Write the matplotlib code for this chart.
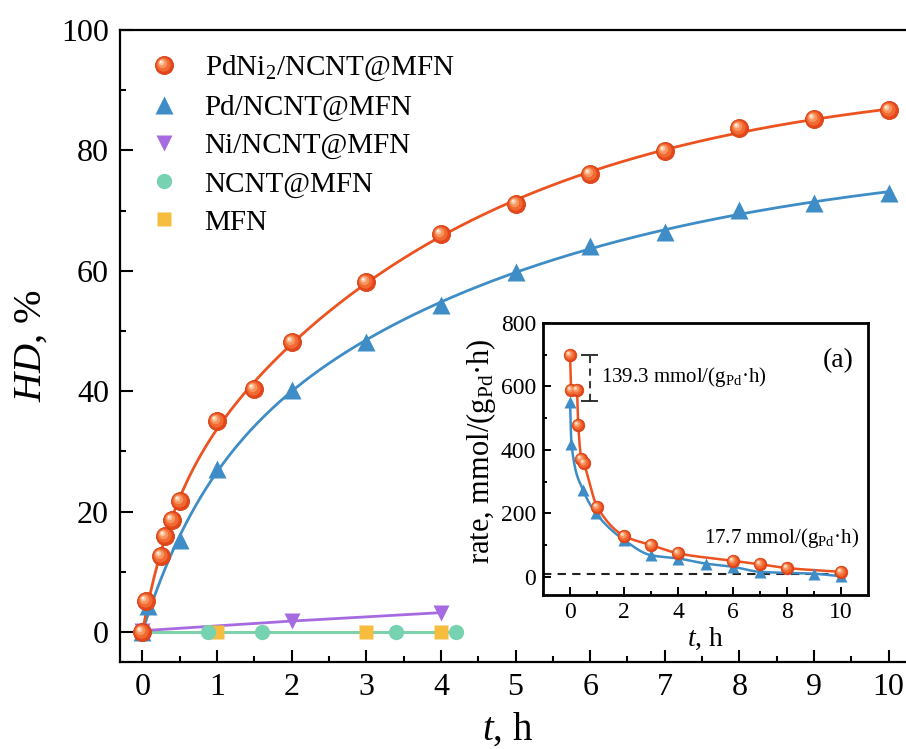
import numpy as np
import matplotlib
matplotlib.use("Agg")
import matplotlib.pyplot as plt
from matplotlib.path import Path
from matplotlib.markers import MarkerStyle
from matplotlib.legend_handler import HandlerTuple

plt.rcParams['font.family'] = ['Liberation Serif', 'DejaVu Serif']
plt.rcParams['mathtext.fontset'] = 'custom'
plt.rcParams['mathtext.rm'] = 'Liberation Serif'
plt.rcParams['mathtext.it'] = 'Liberation Serif:italic'
plt.rcParams['mathtext.bf'] = 'Liberation Serif:bold'

# ---------------- data ----------------
t_pdni = [0, 0.05, 0.25, 0.3, 0.4, 0.5, 1, 1.5, 2, 3, 4, 5, 6, 7, 8, 9, 10]
hd_pdni = [0, 5.2, 12.6, 15.9, 18.6, 21.8, 35.1, 40.4, 48.2, 58.1, 66.1, 71.1, 76.1, 79.9, 83.7, 85.2, 86.7]

t_pd = [0, 0.08, 0.5, 1, 2, 3, 4, 5, 6, 7, 8, 9, 10]
hd_pd = [0, 4.3, 15.3, 27.0, 40.2, 48.2, 54.3, 59.8, 64.1, 66.4, 70.1, 71.3, 72.9]

t_ni = [0, 2, 4]
hd_ni = [0.2, 1.8, 3.2]

t_ncnt = [0, 0.88, 1.6, 3.4, 4.2]
hd_ncnt = [0, 0, 0, 0, 0]

t_mfn = [0, 1, 3, 4]
hd_mfn = [0, 0, 0, 0]

# inset: rate
rt_pdni = [0, 0.04, 0.25, 0.3, 0.42, 0.5, 1, 2, 3, 4, 6, 7, 8, 10]
rate_pdni = [698, 590, 588, 479, 372, 358, 221, 129, 100, 74, 51, 40, 28, 16]
rt_pd = [0, 0.05, 0.48, 0.96, 2, 3, 4, 5, 6, 7, 9, 10]
rate_pd = [550, 419, 274, 200, 116, 68, 58, 42, 32, 16, 10, 2]

labels = ['PdNi$_2$/NCNT@MFN', 'Pd/NCNT@MFN', 'Ni/NCNT@MFN', 'NCNT@MFN', 'MFN']

C_OR = '#EC5320'
C_BL = '#3F8DC6'
C_PU = '#A66BE0'
C_TE = '#76D2B0'
C_YE = '#F6BD3E'


def pchip(x, y, xn):
    x = np.asarray(x, float); y = np.asarray(y, float)
    h = np.diff(x); d = np.diff(y) / h
    n = len(x); m = np.zeros(n)
    for k in range(1, n - 1):
        if d[k - 1] * d[k] > 0:
            w1 = 2 * h[k] + h[k - 1]; w2 = h[k] + 2 * h[k - 1]
            m[k] = (w1 + w2) / (w1 / d[k - 1] + w2 / d[k])
    m[0] = d[0]; m[-1] = d[-1]
    idx = np.clip(np.searchsorted(x, xn) - 1, 0, n - 2)
    s = (xn - x[idx]) / h[idx]
    h00 = 2 * s**3 - 3 * s**2 + 1; h10 = s**3 - 2 * s**2 + s
    h01 = -2 * s**3 + 3 * s**2; h11 = s**3 - s**2
    return h00 * y[idx] + h10 * h[idx] * m[idx] + h01 * y[idx + 1] + h11 * h[idx] * m[idx + 1]


def fit_curve(t, y, tn):
    t = np.asarray(t, float); y = np.asarray(y, float)
    best = None
    for k in np.geomspace(0.05, 10, 60):
        for mm in np.geomspace(0.05, 10, 60):
            if mm <= k:
                continue
            A = np.column_stack([1 - np.exp(-k * t), 1 - np.exp(-mm * t)])
            coef, *_ = np.linalg.lstsq(A, y, rcond=None)
            r = np.sum((A @ coef - y) ** 2)
            if best is None or r < best[0]:
                best = (r, k, mm, coef)
    _, k, mm, coef = best
    return coef[0] * (1 - np.exp(-k * tn)) + coef[1] * (1 - np.exp(-mm * tn))


def circ_marker(cx, cy, r):
    c = Path.circle((cx, cy), r)
    return MarkerStyle(c)


SPHERE_LAYERS = [  # (offset, radius, color)
    (0.10, 0.78, '#F26A32'),
    (0.22, 0.52, '#F79561'),
    (0.32, 0.30, '#FBC5A0'),
    (0.38, 0.13, '#FFF1E6'),
]


def sphere(ax, x, y, ms, z):
    hs = []
    h, = ax.plot(x, y, ls='none', marker='o', ms=ms, mfc='#E2461A', mec='#D84014',
                 mew=0.6, zorder=z)
    hs.append(h)
    for off, r, col in SPHERE_LAYERS:
        mk = circ_marker(-off, off, r)
        h, = ax.plot(x, y, ls='none', marker=mk, ms=ms * (off + r), mfc=col, mec='none',
                     zorder=z + 0.01)
        hs.append(h)
    return tuple(hs)


fig = plt.figure(figsize=(9.06, 7.49), dpi=100)
ax = fig.add_axes([120 / 906, 87 / 749, 800 / 906, 632 / 749])

tn = np.linspace(0, 10, 400)
ax.plot(tn, fit_curve(t_pdni, hd_pdni, tn), color=C_OR, lw=2.0, zorder=5)
ax.plot(tn, fit_curve(t_pd, hd_pd, tn), color=C_BL, lw=2.0, zorder=4)
ax.plot(t_mfn, hd_mfn, color=C_YE, lw=2.0, zorder=1)
ax.plot(t_ncnt, hd_ncnt, color=C_TE, lw=2.0, zorder=2)
ax.plot(t_ni, hd_ni, color=C_PU, lw=2.0, zorder=3)

h_mfn, = ax.plot(t_mfn, hd_mfn, ls='none', marker='s', ms=9.5, color=C_YE, mec='none', zorder=6)
h_ncnt, = ax.plot(t_ncnt, hd_ncnt, ls='none', marker='o', ms=11, color=C_TE, mec='none', zorder=7)
h_ni, = ax.plot(t_ni, hd_ni, ls='none', marker='v', ms=12, color=C_PU, mec='none', zorder=8)
h_pd, = ax.plot(t_pd, hd_pd, ls='none', marker='^', ms=13, color=C_BL, mec='none', zorder=9)
h_pdni = sphere(ax, t_pdni, hd_pdni, 13, 10)

ax.set_xlim(-0.3, 10.42)
ax.set_ylim(-5, 100)
ax.set_xticks(np.arange(0, 11, 1))
ax.set_xticks(np.arange(-0.0, 10.5, 0.5), minor=True)
ax.set_yticks(np.arange(0, 101, 20))
ax.set_yticks(np.arange(0, 101, 10), minor=True)
ax.tick_params(which='both', direction='in', labelsize=23, width=1.5)
ax.tick_params(which='major', length=9, pad=8)
ax.tick_params(which='minor', length=4.5)
ax.tick_params(top=False, right=False, which='both')
for s in ax.spines.values():
    s.set_linewidth(1.6)
ax.set_xlabel('$t$, h', fontsize=28)
ax.xaxis.set_label_coords(0.485, -0.078)
ax.set_ylabel('$HD$, %', fontsize=29, labelpad=8)

leg = ax.legend([h_pdni, h_pd, h_ni, h_ncnt, h_mfn], labels,
                handler_map={tuple: HandlerTuple(ndivide=1, pad=0)},
                loc='upper left', bbox_to_anchor=(0.0, 0.995), frameon=False,
                fontsize=21, numpoints=1, handlelength=1.6, handletextpad=0.6,
                labelspacing=0.4, borderaxespad=0.3)

# ---------------- inset ----------------
ia = fig.add_axes([543 / 906, 154 / 749, 325 / 906, 272 / 749])
rn = np.linspace(0, 10, 600)
ia.plot(rn, pchip(rt_pd, rate_pd, rn), color=C_BL, lw=1.8, zorder=3)
ia.plot(rn, pchip(rt_pdni, rate_pdni, rn), color=C_OR, lw=1.8, zorder=4)
ia.plot(rt_pd, rate_pd, ls='none', marker='^', ms=9, color=C_BL, mec='none', zorder=5)
sphere(ia, rt_pdni, rate_pdni, 9, 6)

ia.axhline(8, xmin=0, xmax=(9.8 + 1) / 12, color='#222222', lw=1.5, ls=(0, (4, 3)), zorder=2)
ia.vlines(0.72, 555, 700, color='#222222', lw=1.3, ls=(0, (4, 3)))
ia.hlines([700, 555], 0.42, 1.02, color='#222222', lw=1.3)
ia.text(1.15, 630, '139.3 mmol/(g$_{\\mathrm{Pd}}$·h)', fontsize=15, va='center', ha='left')
ia.text(10.68, 122, '17.7 mmol/(g$_{\\mathrm{Pd}}$·h)', fontsize=15, va='center', ha='right')
ia.text(9.9, 680, '(a)', fontsize=20, va='center', ha='center')

ia.set_xlim(-1, 11)
ia.set_ylim(-57, 800)
ia.set_xticks(np.arange(0, 11, 2))
ia.set_xticks(np.arange(-1, 11, 1), minor=True)
ia.set_yticks(np.arange(0, 801, 200))
ia.set_yticks(np.arange(0, 801, 100), minor=True)
ia.tick_params(which='both', direction='in', labelsize=17, width=1.4)
ia.tick_params(which='major', length=6, pad=5)
ia.tick_params(which='minor', length=3)
for s in ia.spines.values():
    s.set_linewidth(2.0)
ia.set_xlabel('$t$, h', fontsize=20, labelpad=2)
ia.set_ylabel('rate, mmol/(g$_{\\mathrm{Pd}}$·h)', fontsize=22)
ia.yaxis.set_label_coords(-0.14, 0.53)

fig.savefig('out.png', dpi=100)
